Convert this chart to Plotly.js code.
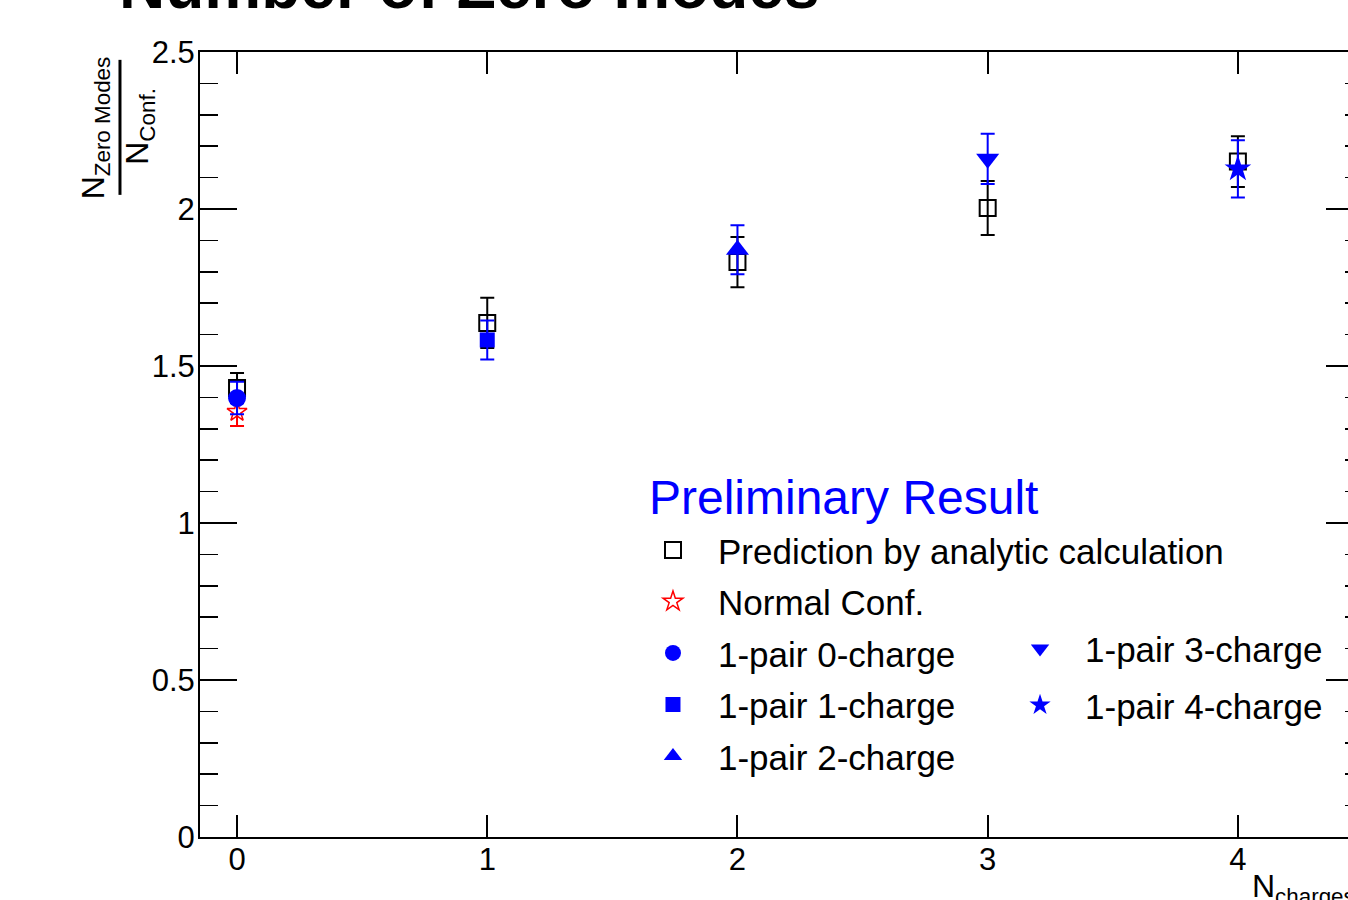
<!DOCTYPE html>
<html>
<head>
<meta charset="utf-8">
<script src="https://cdn.plot.ly/plotly-3.0.1.min.js"></script>
<style>
html,body{margin:0;padding:0;overflow:hidden;background:#fff;}
#chart{width:1400px;height:900px;}
</style>
</head>
<body>
<div id="chart"></div>
<script>
// ---- data ----
const predX = [0, 1, 2, 3, 4];
const predY = [1.43, 1.637, 1.831, 2.003, 2.151];
const predErr = [0.048, 0.08, 0.08, 0.086, 0.081];

const normalX = [0];
const normalY = [1.354];
const normalErr = [0.045];

const q0X = [0];
const q0Y = [1.398];
const q0Err = [0.052];

const q1X = [1];
const q1Y = [1.583];
const q1Err = [0.062];

const q2X = [2];
const q2Y = [1.87];
const q2Err = [0.078];

const q3X = [3];
const q3Y = [2.16];
const q3Err = [0.08];

const q4X = [4];
const q4Y = [2.128];
const q4Err = [0.091];

const seriesNames = ["Prediction by analytic calculation", "Normal Conf.", "1-pair 0-charge",
  "1-pair 1-charge", "1-pair 2-charge", "1-pair 3-charge", "1-pair 4-charge"];
const yTickVals = [0, 0.5, 1, 1.5, 2, 2.5];
const yTickText = ["0", "0.5", "1", "1.5", "2", "2.5"];
const xTickVals = [0, 1, 2, 3, 4];
const xTickText = ["0", "1", "2", "3", "4"];

const BLUE = "#0000ff", RED = "#ff0000", BLACK = "#000000";
const FONT = "Liberation Sans, Arial, sans-serif";

function tr(x, y, e, name, symbol, color, size, lw, legend, group) {
  return {
    type: "scatter", mode: "markers", x: x, y: y, name: name,
    legend: legend, legendgroup: group,
    marker: {symbol: symbol, color: color, size: size, line: {color: color, width: lw}},
    error_y: {type: "data", array: e, visible: true, color: color, thickness: 2, width: 7},
    cliponaxis: false
  };
}

const traces = [
  tr(predX, predY, predErr, seriesNames[0], "square-open", BLACK, 16, 2, "legend", "g0"),
  tr(normalX, normalY, normalErr, seriesNames[1], "star-open", RED, 15, 1.5, "legend", "g1"),
  tr(q0X, q0Y, q0Err, seriesNames[2], "circle", BLUE, 18, 0, "legend", "g2"),
  tr(q1X, q1Y, q1Err, seriesNames[3], "square", BLUE, 15, 0, "legend", "g3"),
  tr(q2X, q2Y, q2Err, seriesNames[4], "triangle-up", BLUE, 20, 0, "legend", "g4"),
  tr(q3X, q3Y, q3Err, seriesNames[5], "triangle-down", BLUE, 20, 0, "legend2", "g5"),
  tr(q4X, q4Y, q4Err, seriesNames[6], "star", BLUE, 20, 0, "legend2", "g6")
];

const layout = {
  width: 1400, height: 900,
  margin: {l: 200, r: 37, t: 52, b: 63},
  paper_bgcolor: "#ffffff", plot_bgcolor: "#ffffff",
  font: {family: FONT, color: BLACK},
  showlegend: true,
  xaxis: {
    range: [-0.148, 4.5], tickvals: xTickVals, ticktext: xTickText,
    ticks: "inside", ticklen: 22, tickwidth: 2, tickcolor: BLACK,
    showline: true, linecolor: BLACK, linewidth: 2, mirror: "ticks",
    showgrid: false, zeroline: false, ticklabelstandoff: -6,
    tickfont: {size: 31, family: FONT, color: BLACK}
  },
  yaxis: {
    range: [0, 2.5], tickvals: yTickVals, ticktext: yTickText,
    ticks: "inside", ticklen: 37, tickwidth: 2, tickcolor: BLACK,
    minor: {dtick: 0.1, ticks: "inside", ticklen: 18, tickwidth: 1.5, tickcolor: BLACK, showgrid: false},
    showline: true, linecolor: BLACK, linewidth: 2, mirror: "ticks",
    showgrid: false, zeroline: false, ticklabelstandoff: -3,
    tickfont: {size: 31, family: FONT, color: BLACK}
  },
  legend: {
    x: 0.368, y: 0.403, xanchor: "left", yanchor: "top",
    bgcolor: "rgba(0,0,0,0)", borderwidth: 0,
    font: {size: 35, family: FONT, color: BLACK},
    tracegroupgap: 3, itemwidth: 80
  },
  legend2: {
    x: 0.6836, y: 0.2775, xanchor: "left", yanchor: "top",
    bgcolor: "rgba(0,0,0,0)", borderwidth: 0,
    font: {size: 35, family: FONT, color: BLACK},
    tracegroupgap: 8, itemwidth: 80
  },
  shapes: [
    {type: "line", xref: "paper", yref: "paper", x0: -0.0688, x1: -0.0688, y0: 0.818, y1: 0.99,
     line: {color: BLACK, width: 3}}
  ],
  annotations: [
    {text: "<b>Number of Zero modes</b>", xref: "paper", yref: "paper", x: 0.232, y: 1.036,
     xanchor: "center", yanchor: "bottom", showarrow: false, font: {size: 64, family: FONT, color: BLACK}},
    {text: "Preliminary Result", xref: "paper", yref: "paper", x: 0.3844, y: 0.433,
     xanchor: "left", yanchor: "middle", showarrow: false, font: {size: 48, family: FONT, color: BLUE}},
    {text: "N<sub>Zero Modes</sub>", xref: "paper", yref: "paper", x: -0.0903, y: 0.904,
     xanchor: "center", yanchor: "middle", textangle: -90, showarrow: false,
     font: {size: 32, family: FONT, color: BLACK}},
    {text: "N<sub>Conf.</sub>", xref: "paper", yref: "paper", x: -0.0516, y: 0.906,
     xanchor: "center", yanchor: "middle", textangle: -90, showarrow: false,
     font: {size: 32, family: FONT, color: BLACK}},
    {text: "N<sub>charges</sub>", xref: "paper", yref: "paper", x: 0.903, y: -0.065,
     xanchor: "left", yanchor: "middle", showarrow: false,
     font: {size: 32, family: FONT, color: BLACK}}
  ]
};

Plotly.newPlot("chart", traces, layout, {displayModeBar: false, staticPlot: true});
</script>
</body>
</html>
